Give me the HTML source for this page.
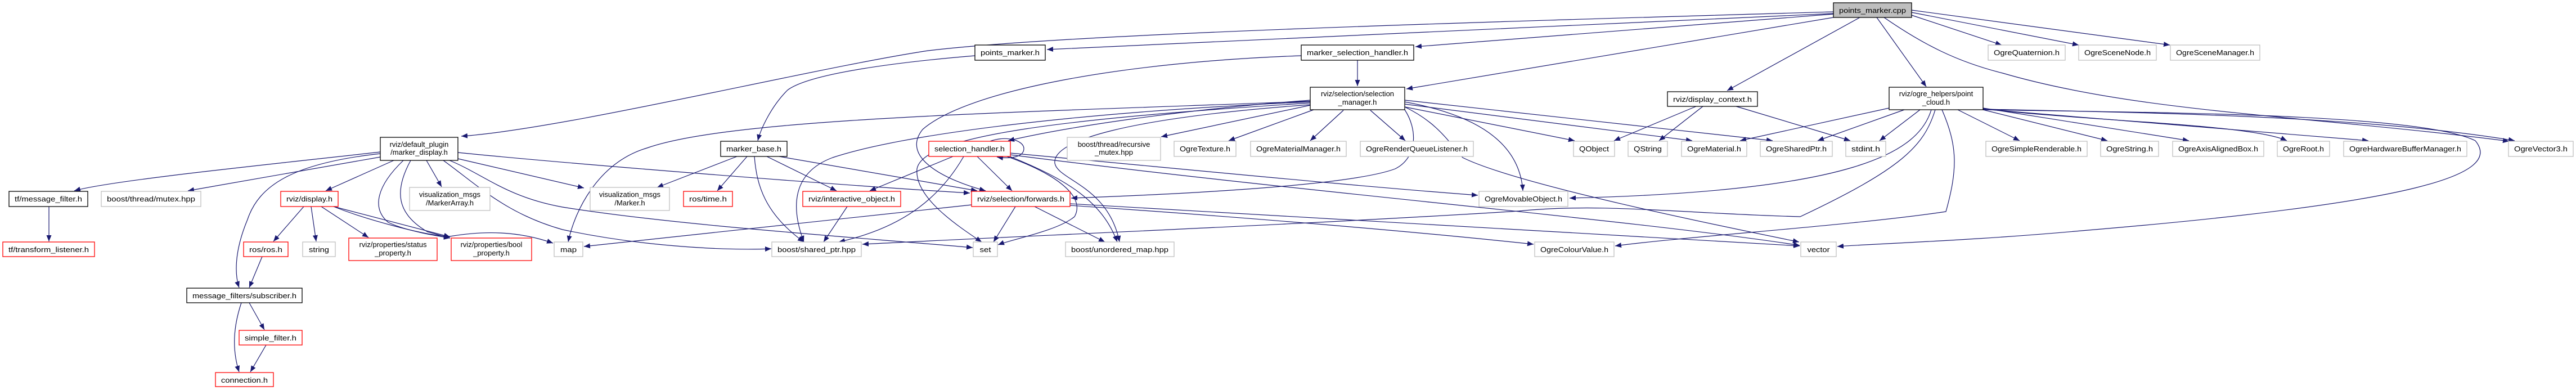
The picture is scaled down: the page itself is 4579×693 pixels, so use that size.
<!DOCTYPE html>
<html><head><meta charset="utf-8"><style>
html,body{margin:0;padding:0;background:#fff;}
svg{display:block;}
text{font-family:"Liberation Sans",sans-serif;font-size:13px;fill:#000;}
.e{fill:none;stroke:#191970;stroke-width:1.2;marker-end:url(#a);}
.b{fill:#fff;stroke:#000;stroke-width:1.3;}
.r{fill:#fff;stroke:#ff0000;stroke-width:1.3;}
.g{fill:#fff;stroke:#bfbfbf;stroke-width:1.3;}
</style></head><body>
<svg width="4579" height="693" viewBox="0 0 4579 693" xmlns="http://www.w3.org/2000/svg">
<defs><marker id="a" markerUnits="userSpaceOnUse" markerWidth="12" markerHeight="9" refX="11" refY="4.5" orient="auto"><path d="M0,0 L11,4.5 L0,9 z" fill="#191970"/></marker></defs>
<g>
<path class="e" d="M3259,21 C2600,40 1900,60 1650,90 C1450,120 1000,230 820,242"/>
<path class="e" d="M3259,24 C2800,45 2200,72 1861,88"/>
<path class="e" d="M3259,25 L2516,83"/>
<path class="e" d="M3259,31 L2500,158"/>
<path class="e" d="M3306,31 L3070,161"/>
<path class="e" d="M3336,31 L3424,154"/>
<path class="e" d="M3398,27 L3558,80"/>
<path class="e" d="M3398,22 L3695,80"/>
<path class="e" d="M3398,18 L3857,80"/>
<path class="e" d="M3349,31 C3420,80 3480,110 3560,130 C3800,200 4100,205 4460,251"/>
<path class="e" d="M2413,107 L2413,153"/>
<path class="e" d="M2313,99 C2000,110 1720,160 1640,230 C1600,280 1680,320 1752,339"/>
<path class="e" d="M1733,99 C1600,110 1440,130 1400,160 C1370,190 1352,230 1347,250"/>
<path class="e" d="M676,270 C500,290 200,320 132,339"/>
<path class="e" d="M676,279 L334,339"/>
<path class="e" d="M676,273 C520,290 460,330 440,390 C415,450 418,490 425,511"/>
<path class="e" d="M700,285 L579,339"/>
<path class="e" d="M717,285 C670,330 660,370 690,395 C720,410 780,420 800,423"/>
<path class="e" d="M730,285 C700,340 705,380 760,412 L800,423"/>
<path class="e" d="M758,285 L785,332"/>
<path class="e" d="M814,282 L1038,334"/>
<path class="e" d="M814,271 C1000,290 1500,330 1724,343"/>
<path class="e" d="M799,285 C860,310 900,350 1000,368 C1200,400 1500,420 1729,440"/>
<path class="e" d="M788,285 C850,330 900,380 1000,408 C1150,440 1300,445 1371,442"/>
<path class="e" d="M540,367 L486,429"/>
<path class="e" d="M553,367 L562,429"/>
<path class="e" d="M571,367 L655,422"/>
<path class="e" d="M593,367 L800,421"/>
<path class="e" d="M593,367 C650,390 760,420 800,420 C860,410 920,410 983,432"/>
<path class="e" d="M466,456 L443,511"/>
<path class="e" d="M443,538 L470,586"/>
<path class="e" d="M429,538 C415,580 412,620 425,661"/>
<path class="e" d="M473,613 L445,661"/>
<path class="e" d="M87,367 L87,429"/>
<path class="e" d="M1310,278 L1168,333"/>
<path class="e" d="M1328,278 L1275,339"/>
<path class="e" d="M1341,278 C1345,330 1360,380 1429,430"/>
<path class="e" d="M1363,278 L1487,339"/>
<path class="e" d="M1385,278 L1737,339"/>
<path class="e" d="M1506,367 L1464,430"/>
<path class="e" d="M1694,278 L1546,339"/>
<path class="e" d="M1713,278 C1660,370 1580,410 1491,430"/>
<path class="e" d="M1737,278 L1799,339"/>
<path class="e" d="M1795,278 C1900,320 1960,360 1986,430"/>
<path class="e" d="M1790,278 C1880,310 1930,350 1910,385 C1880,410 1800,425 1774,435"/>
<path class="e" d="M1760,251 C1790,240 1820,250 1820,264 C1820,278 1800,283 1772,279"/>
<path class="e" d="M1796,275 C2300,340 2900,390 3199,436"/>
<path class="e" d="M1796,272 C2100,300 2400,330 2627,347"/>
<path class="e" d="M1805,367 L1766,430"/>
<path class="e" d="M1839,367 L1964,430"/>
<path class="e" d="M1727,364 L1038,438"/>
<path class="e" d="M1902,365 C2200,385 2500,410 2726,434"/>
<path class="e" d="M1902,362 C2500,400 2900,420 3199,437"/>
<path class="e" d="M2329,178 C2100,195 1900,225 1792,250"/>
<path class="e" d="M2329,187 L2064,243"/>
<path class="e" d="M2335,195 L2184,250"/>
<path class="e" d="M2388,196 L2329,250"/>
<path class="e" d="M2436,196 L2498,250"/>
<path class="e" d="M2329,181 C1900,200 1600,240 1480,280 C1400,310 1410,380 1429,430"/>
<path class="e" d="M2329,183 C1900,210 1640,240 1630,300 C1625,350 1700,400 1745,430"/>
<path class="e" d="M2329,186 C2000,210 1870,250 1875,290 C1880,320 1970,330 1990,430"/>
<path class="e" d="M2497,195 C2520,230 2520,280 2480,300 C2400,330 2100,345 1904,352"/>
<path class="e" d="M2329,180 C1800,200 1300,210 1150,263 C1060,290 1020,380 1010,430"/>
<path class="e" d="M2497,190 L2799,250"/>
<path class="e" d="M2497,185 L3008,250"/>
<path class="e" d="M2497,178 L3151,250"/>
<path class="e" d="M2497,181 C2600,200 2700,240 2707,339"/>
<path class="e" d="M2497,190 C2560,220 2580,260 2600,280 C2700,330 3100,410 3198,430"/>
<path class="e" d="M3015,189 L2869,250"/>
<path class="e" d="M3027,189 L2949,250"/>
<path class="e" d="M3086,189 L3289,250"/>
<path class="e" d="M3358,192 L3093,250"/>
<path class="e" d="M3385,195 L3231,250"/>
<path class="e" d="M3413,195 L3341,250"/>
<path class="e" d="M3433,195 C3410,270 3300,340 2790,352"/>
<path class="e" d="M3452,195 C3480,260 3480,300 3459,376 C3300,400 3000,420 2871,437"/>
<path class="e" d="M3440,195 C3420,260 3380,300 3200,385 C3000,380 2850,360 2700,375 C2300,400 1800,420 1533,434"/>
<path class="e" d="M3525,195 C3800,200 4300,200 4400,250 C4450,310 4300,360 3700,410 C3500,428 3350,432 3266,438"/>
<path class="e" d="M3480,195 L3590,250"/>
<path class="e" d="M3525,195 L3746,250"/>
<path class="e" d="M3525,192 L3891,250"/>
<path class="e" d="M3525,193 C3700,215 4000,220 4065,250"/>
<path class="e" d="M3525,194 L4210,250"/>
<path class="e" d="M3525,194 C3800,200 4200,205 4470,250"/>
</g>
<g>
<rect x="3259" y="5" width="139" height="26" fill="#bfbfbf" stroke="#000" stroke-width="1.3"/><text x="3328.5" y="23" text-anchor="middle" textLength="119" lengthAdjust="spacingAndGlyphs">points_marker.cpp</text>
<rect class="b" x="1733" y="80" width="125" height="27"/><text x="1795.5" y="98" text-anchor="middle" textLength="105" lengthAdjust="spacingAndGlyphs">points_marker.h</text>
<rect class="b" x="2313" y="80" width="200" height="27"/><text x="2413" y="98" text-anchor="middle" textLength="180" lengthAdjust="spacingAndGlyphs">marker_selection_handler.h</text>
<rect class="g" x="3534" y="80" width="137" height="27"/><text x="3602.5" y="98" text-anchor="middle" textLength="117" lengthAdjust="spacingAndGlyphs">OgreQuaternion.h</text>
<rect class="g" x="3695" y="80" width="138" height="27"/><text x="3764" y="98" text-anchor="middle" textLength="118" lengthAdjust="spacingAndGlyphs">OgreSceneNode.h</text>
<rect class="g" x="3858" y="80" width="159" height="27"/><text x="3937.5" y="98" text-anchor="middle" textLength="139" lengthAdjust="spacingAndGlyphs">OgreSceneManager.h</text>
<rect class="b" x="2329" y="155" width="168" height="40"/><text x="2413" y="171" text-anchor="middle">rviz/selection/selection</text><text x="2413" y="186" text-anchor="middle">_manager.h</text>
<rect class="b" x="2964" y="163" width="160" height="26"/><text x="3044" y="181" text-anchor="middle" textLength="140" lengthAdjust="spacingAndGlyphs">rviz/display_context.h</text>
<rect class="b" x="3358" y="155" width="167" height="40"/><text x="3441.5" y="171" text-anchor="middle">rviz/ogre_helpers/point</text><text x="3441.5" y="186" text-anchor="middle">_cloud.h</text>
<rect class="b" x="676" y="244" width="138" height="41"/><text x="745" y="261" text-anchor="middle">rviz/default_plugin</text><text x="745" y="275" text-anchor="middle">/marker_display.h</text>
<rect class="b" x="1281" y="251" width="118" height="27"/><text x="1340" y="269" text-anchor="middle" textLength="98" lengthAdjust="spacingAndGlyphs">marker_base.h</text>
<rect class="r" x="1651" y="251" width="145" height="27"/><text x="1723.5" y="269" text-anchor="middle" textLength="125" lengthAdjust="spacingAndGlyphs">selection_handler.h</text>
<rect class="g" x="1897" y="244" width="166" height="41"/><text x="1980" y="261" text-anchor="middle">boost/thread/recursive</text><text x="1980" y="275" text-anchor="middle">_mutex.hpp</text>
<rect class="g" x="2087" y="251" width="110" height="27"/><text x="2142" y="269" text-anchor="middle" textLength="90" lengthAdjust="spacingAndGlyphs">OgreTexture.h</text>
<rect class="g" x="2223" y="251" width="170" height="27"/><text x="2308" y="269" text-anchor="middle" textLength="150" lengthAdjust="spacingAndGlyphs">OgreMaterialManager.h</text>
<rect class="g" x="2418" y="251" width="201" height="27"/><text x="2518.5" y="269" text-anchor="middle" textLength="181" lengthAdjust="spacingAndGlyphs">OgreRenderQueueListener.h</text>
<rect class="g" x="2797" y="251" width="73" height="27"/><text x="2833.5" y="269" text-anchor="middle" textLength="53" lengthAdjust="spacingAndGlyphs">QObject</text>
<rect class="g" x="2894" y="251" width="70" height="27"/><text x="2929" y="269" text-anchor="middle" textLength="50" lengthAdjust="spacingAndGlyphs">QString</text>
<rect class="g" x="2989" y="251" width="116" height="27"/><text x="3047" y="269" text-anchor="middle" textLength="96" lengthAdjust="spacingAndGlyphs">OgreMaterial.h</text>
<rect class="g" x="3129" y="251" width="128" height="27"/><text x="3193" y="269" text-anchor="middle" textLength="108" lengthAdjust="spacingAndGlyphs">OgreSharedPtr.h</text>
<rect class="g" x="3281" y="251" width="71" height="27"/><text x="3316.5" y="269" text-anchor="middle" textLength="51" lengthAdjust="spacingAndGlyphs">stdint.h</text>
<rect class="g" x="3530" y="251" width="180" height="27"/><text x="3620" y="269" text-anchor="middle" textLength="160" lengthAdjust="spacingAndGlyphs">OgreSimpleRenderable.h</text>
<rect class="g" x="3734" y="251" width="103" height="27"/><text x="3785.5" y="269" text-anchor="middle" textLength="83" lengthAdjust="spacingAndGlyphs">OgreString.h</text>
<rect class="g" x="3862" y="251" width="162" height="27"/><text x="3943" y="269" text-anchor="middle" textLength="142" lengthAdjust="spacingAndGlyphs">OgreAxisAlignedBox.h</text>
<rect class="g" x="4048" y="251" width="93" height="27"/><text x="4094.5" y="269" text-anchor="middle" textLength="73" lengthAdjust="spacingAndGlyphs">OgreRoot.h</text>
<rect class="g" x="4166" y="251" width="219" height="27"/><text x="4275.5" y="269" text-anchor="middle" textLength="199" lengthAdjust="spacingAndGlyphs">OgreHardwareBufferManager.h</text>
<rect class="g" x="4459" y="251" width="115" height="27"/><text x="4516.5" y="269" text-anchor="middle" textLength="95" lengthAdjust="spacingAndGlyphs">OgreVector3.h</text>
<rect class="b" x="16" y="340" width="140" height="27"/><text x="86" y="358" text-anchor="middle" textLength="120" lengthAdjust="spacingAndGlyphs">tf/message_filter.h</text>
<rect class="g" x="180" y="340" width="177" height="27"/><text x="268.5" y="358" text-anchor="middle" textLength="157" lengthAdjust="spacingAndGlyphs">boost/thread/mutex.hpp</text>
<rect class="r" x="499" y="340" width="102" height="27"/><text x="550" y="358" text-anchor="middle" textLength="82" lengthAdjust="spacingAndGlyphs">rviz/display.h</text>
<rect class="g" x="728" y="333" width="143" height="41"/><text x="799.5" y="350" text-anchor="middle">visualization_msgs</text><text x="799.5" y="365" text-anchor="middle">/MarkerArray.h</text>
<rect class="g" x="1049" y="333" width="141" height="41"/><text x="1119.5" y="350" text-anchor="middle">visualization_msgs</text><text x="1119.5" y="365" text-anchor="middle">/Marker.h</text>
<rect class="r" x="1215" y="340" width="87" height="27"/><text x="1258.5" y="358" text-anchor="middle" textLength="67" lengthAdjust="spacingAndGlyphs">ros/time.h</text>
<rect class="r" x="1427" y="340" width="174" height="27"/><text x="1514" y="358" text-anchor="middle" textLength="154" lengthAdjust="spacingAndGlyphs">rviz/interactive_object.h</text>
<rect class="r" x="1727" y="340" width="175" height="27"/><text x="1814.5" y="358" text-anchor="middle" textLength="155" lengthAdjust="spacingAndGlyphs">rviz/selection/forwards.h</text>
<rect class="g" x="2629" y="340" width="158" height="27"/><text x="2708" y="358" text-anchor="middle" textLength="138" lengthAdjust="spacingAndGlyphs">OgreMovableObject.h</text>
<rect class="r" x="5" y="430" width="163" height="26"/><text x="86.5" y="448" text-anchor="middle" textLength="143" lengthAdjust="spacingAndGlyphs">tf/transform_listener.h</text>
<rect class="r" x="433" y="430" width="79" height="26"/><text x="472.5" y="448" text-anchor="middle" textLength="59" lengthAdjust="spacingAndGlyphs">ros/ros.h</text>
<rect class="g" x="538" y="430" width="58" height="26"/><text x="567" y="448" text-anchor="middle" textLength="36" lengthAdjust="spacingAndGlyphs">string</text>
<rect class="r" x="620" y="423" width="157" height="40"/><text x="698.5" y="439" text-anchor="middle">rviz/properties/status</text><text x="698.5" y="454" text-anchor="middle">_property.h</text>
<rect class="r" x="802" y="423" width="143" height="40"/><text x="873.5" y="439" text-anchor="middle">rviz/properties/bool</text><text x="873.5" y="454" text-anchor="middle">_property.h</text>
<rect class="g" x="985" y="430" width="51" height="26"/><text x="1010.5" y="448" text-anchor="middle" textLength="29" lengthAdjust="spacingAndGlyphs">map</text>
<rect class="g" x="1372" y="430" width="159" height="26"/><text x="1451.5" y="448" text-anchor="middle" textLength="139" lengthAdjust="spacingAndGlyphs">boost/shared_ptr.hpp</text>
<rect class="g" x="1730" y="430" width="43" height="26"/><text x="1751.5" y="448" text-anchor="middle" textLength="20" lengthAdjust="spacingAndGlyphs">set</text>
<rect class="g" x="1894" y="430" width="193" height="26"/><text x="1990.5" y="448" text-anchor="middle" textLength="173" lengthAdjust="spacingAndGlyphs">boost/unordered_map.hpp</text>
<rect class="g" x="2728" y="430" width="141" height="26"/><text x="2798.5" y="448" text-anchor="middle" textLength="121" lengthAdjust="spacingAndGlyphs">OgreColourValue.h</text>
<rect class="g" x="3201" y="430" width="63" height="26"/><text x="3232.5" y="448" text-anchor="middle" textLength="40" lengthAdjust="spacingAndGlyphs">vector</text>
<rect class="b" x="332" y="512" width="205" height="26"/><text x="434.5" y="530" text-anchor="middle" textLength="185" lengthAdjust="spacingAndGlyphs">message_filters/subscriber.h</text>
<rect class="r" x="425" y="587" width="112" height="26"/><text x="481" y="605" text-anchor="middle" textLength="92" lengthAdjust="spacingAndGlyphs">simple_filter.h</text>
<rect class="r" x="383" y="662" width="103" height="25"/><text x="434.5" y="680" text-anchor="middle" textLength="83" lengthAdjust="spacingAndGlyphs">connection.h</text>
</g>
</svg>
</body></html>
